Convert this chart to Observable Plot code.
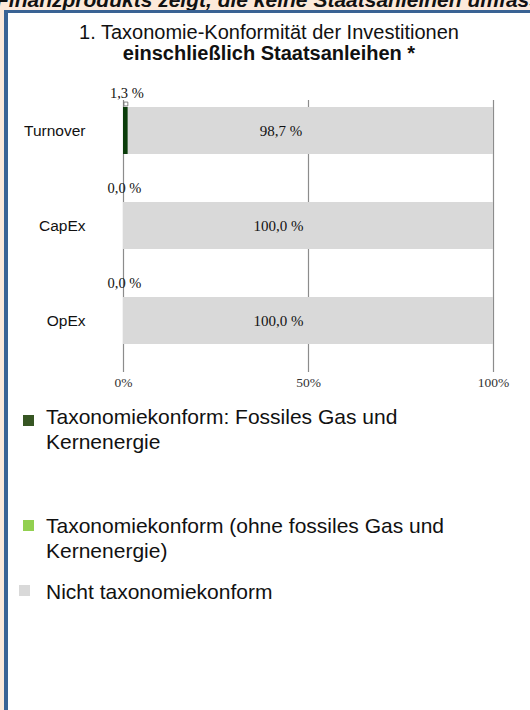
<!DOCTYPE html>
<html>
<head>
<meta charset="utf-8">
<script src="https://cdn.jsdelivr.net/npm/d3@7"></script>
<script src="https://cdn.jsdelivr.net/npm/@observablehq/plot@0.6"></script>
<style>
  html, body { margin: 0; padding: 0; width: 530px; height: 710px; overflow: hidden; background: #fce9da; }
  body { position: relative; font-family: Arial, "Liberation Sans", sans-serif; }
  #header { position: absolute; left: -4px; top: -12px; white-space: nowrap; font-weight: bold; font-style: italic; font-size: 21px; color: #111; }
  #box { position: absolute; left: 4px; top: 10px; width: 540px; height: 720px; background: #fff; border-left: 4px solid #3a6394; border-top: 3px solid #3a6394; }
  #title { position: absolute; left: 0; top: 22px; width: 538px; text-align: center; font-size: 20px; line-height: 21px; color: #111; }
  #title b { font-weight: bold; }
  #chart { position: absolute; left: 0; top: 80px; }
  .leg { position: absolute; left: 46px; font-size: 21px; line-height: 25px; color: #111; }
  .sw { position: absolute; width: 11px; height: 11px; }
</style>
</head>
<body>
<div id="header">Finanzprodukts zeigt, die keine Staatsanleihen umfassen</div>
<div id="box"></div>
<div id="title">1. Taxonomie-Konformität der Investitionen<br><b>einschließlich Staatsanleihen *</b></div>
<div id="chart"></div>
<div id="legend"></div>
<script>
const categories = ["Turnover", "CapEx", "OpEx"];
const fossil = [1.3, 0.0, 0.0];
const alignedOther = [0.0, 0.0, 0.0];
const notAligned = [98.7, 100.0, 100.0];
const xTicks = [0, 50, 100];
const seriesNames = [
  "Taxonomiekonform: Fossiles Gas und Kernenergie",
  "Taxonomiekonform (ohne fossiles Gas und Kernenergie)",
  "Nicht taxonomiekonform"
];
const barColors = ["#0b3d0b", "#92d050", "#d9d9d9"];
const legendColors = ["#375623", "#92d050", "#d9d9d9"];

const fmt = v => v.toFixed(1).replace(".", ",") + " %";

const rows = [];
categories.forEach((c, i) => {
  const vals = [fossil[i], alignedOther[i], notAligned[i]];
  let acc = 0;
  vals.forEach((v, s) => {
    rows.push({cat: c, series: seriesNames[s], s, v, x1: acc, x2: acc + v});
    acc += v;
  });
});
const fossilRows = rows.filter(r => r.s === 0);
const grayRows = rows.filter(r => r.s === 2);

const serif = '"Times New Roman", "Liberation Serif", serif';

const plot = Plot.plot({
  width: 530,
  height: 320,
  marginLeft: 123,
  marginRight: 37,
  marginTop: 20,
  marginBottom: 28,
  style: {background: "transparent", overflow: "visible"},
  x: {domain: [0, 100], ticks: xTicks, tickFormat: d => d + "%"},
  y: {domain: categories, paddingInner: 0.508, paddingOuter: 0.178, align: 0.206},
  color: {domain: seriesNames, range: barColors},
  marks: [
    Plot.ruleX(xTicks, {stroke: "#8c8c8c", strokeWidth: 1.2}),
    Plot.barX(rows.filter(r => r.v > 0), {x1: "x1", x2: "x2", y: "cat", fill: "series", inset: 0}),
    Plot.dot(fossilRows.filter(r => r.v > 0), {x: d => (d.x1 + d.x2) / 2, y: "cat", symbol: "square", r: 2.2, fill: "#fff", stroke: "#666", strokeWidth: 0.8, dy: -27}),
    Plot.text(grayRows, {x: d => (d.x1 + d.x2) / 2, y: "cat", text: d => fmt(d.v), dx: -30, fontFamily: serif, fontSize: 15, fill: "#111"}),
    Plot.text(fossilRows, {x: d => (d.x1 + d.x2) / 2, y: "cat", text: d => fmt(d.v), dy: -38, dx: 1, fontFamily: serif, fontSize: 14.5, fill: "#111"}),
    Plot.axisX({ticks: xTicks, tickFormat: d => d + "%", tickSize: 0, tickPadding: 5, label: null, fontFamily: serif, fontSize: 13.5, color: "#333"}),
    Plot.axisY({tickSize: 0, tickPadding: 38, label: null, fontFamily: 'Arial, "Liberation Sans", sans-serif', fontSize: 15.5, color: "#111"})
  ]
});
document.getElementById("chart").appendChild(plot);

const legendPos = [
  {sx: 23, sy: 415, tx: 46, ty: 404, text: "Taxonomiekonform: Fossiles Gas und<br>Kernenergie"},
  {sx: 23, sy: 520, tx: 46, ty: 513, text: "Taxonomiekonform (ohne fossiles Gas und<br>Kernenergie)"},
  {sx: 19, sy: 585, tx: 46, ty: 579, text: "Nicht taxonomiekonform"}
];
const leg = document.getElementById("legend");
legendPos.forEach((p, i) => {
  const sw = document.createElement("div");
  sw.className = "sw";
  sw.style.left = p.sx + "px";
  sw.style.top = p.sy + "px";
  sw.style.background = legendColors[i];
  leg.appendChild(sw);
  const t = document.createElement("div");
  t.className = "leg";
  t.style.left = p.tx + "px";
  t.style.top = p.ty + "px";
  t.innerHTML = p.text;
  leg.appendChild(t);
});
</script>
</body>
</html>
